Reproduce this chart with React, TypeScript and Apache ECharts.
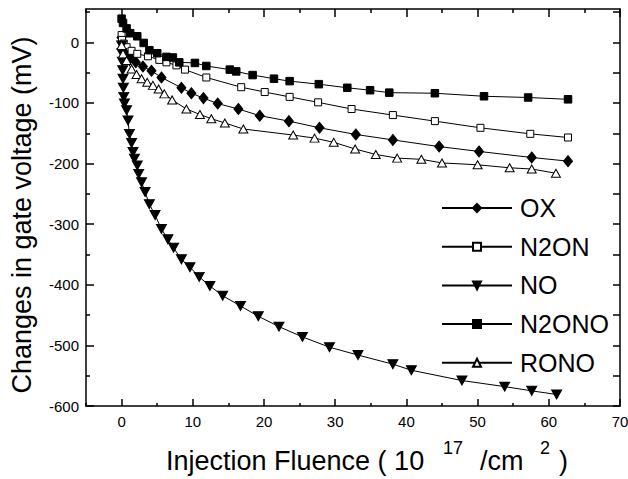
import React, { useEffect, useRef } from "react";
import * as echarts from "echarts";

const FONT = '"Liberation Sans", Arial, Helvetica, sans-serif';

// Injection fluence (1e17/cm^2), gate voltage shift (mV)
const OX: [number, number][] = [
  [0, 8], [0.2, -8], [0.6, -18], [1.2, -26], [2.0, -33], [3.0, -40], [4.2, -47], [5.6, -58],
  [8.4, -75], [9.8, -84], [11.5, -92], [13.5, -101], [16.4, -110], [19.4, -121], [23.5, -130],
  [27.8, -141], [32.9, -152], [38.1, -161], [44.6, -172], [50.2, -180], [57.6, -190], [62.7, -196],
];
const N2ON: [number, number][] = [
  [0, 12], [0.05, 4], [0.3, -2], [0.7, -8], [1.4, -14], [2.2, -19], [3.7, -23], [5.3, -29],
  [6.3, -33], [7.7, -38], [8.9, -45], [11.9, -58], [16.8, -74], [20.1, -82], [23.6, -90],
  [27.6, -99], [32.3, -110], [38.1, -120], [44.0, -130], [50.4, -141], [57.4, -151], [62.7, -157],
];
const NO: [number, number][] = [
  [0, -5], [0.05, -18], [0.1, -32], [0.15, -46], [0.2, -60], [0.25, -75], [0.3, -90], [0.4, -101],
  [0.7, -112], [0.9, -129], [1.1, -151], [1.4, -166], [1.6, -181], [1.8, -192], [2.2, -203],
  [2.4, -217], [2.8, -231], [3.3, -247], [3.9, -267], [4.7, -285], [5.6, -308], [6.5, -325],
  [7.3, -339], [8.4, -358], [9.6, -371], [10.9, -387], [12.4, -402], [14.2, -418], [16.7, -435],
  [19.2, -452], [22.1, -469], [25.4, -486], [29.2, -503], [33.2, -516], [38.1, -531], [40.7, -541],
  [47.8, -558], [53.8, -568], [57.6, -575], [61.1, -581],
];
const N2ONO: [number, number][] = [
  [0, 39], [0.2, 32], [0.7, 23], [1.2, 15], [2.2, 10], [3.1, -1], [3.9, -13], [5.0, -18],
  [6.3, -24], [7.2, -25], [8.1, -33], [10.3, -34], [11.9, -39], [15.2, -45], [16.1, -48],
  [18.4, -54], [21.4, -60], [23.6, -64], [27.7, -69], [31.7, -75], [34.9, -79], [37.6, -83],
  [44.0, -84], [50.9, -89], [57.1, -91], [62.7, -94],
];
const RONO: [number, number][] = [
  [0, -5], [0.2, -19], [0.7, -30], [1.4, -44], [2.1, -53], [2.8, -60], [3.6, -66], [4.4, -71],
  [5.2, -77], [6.0, -85], [7.1, -95], [9.1, -110], [11.0, -119], [12.6, -126], [14.5, -133],
  [17.1, -143], [24.1, -153], [27.1, -158], [29.8, -165], [32.8, -176], [35.7, -185], [38.7, -191],
  [42.1, -193], [45.0, -199], [50.0, -202], [54.5, -207], [57.6, -209], [61.0, -216],
];

const X_MAJOR = [0, 10, 20, 30, 40, 50, 60, 70];
const X_MINOR = [-5, 5, 15, 25, 35, 45, 55, 65];
const Y_MAJOR = [-600, -500, -400, -300, -200, -100, 0];
const Y_MINOR = [-550, -450, -350, -250, -150, -50, 50];
const Y_RIGHT = [-600, -550, -500, -450, -400, -350, -300, -250, -200, -150, -100, -50, 0, 50];
const X_RANGE = [-5, 70];
const Y_RANGE = [-600, 55];

const LINE = { color: "#000", width: 1.5 };

function xAx(position: string, ticks: number[], len: number, showLine: boolean, labels: boolean) {
  return {
    type: "value",
    min: X_RANGE[0],
    max: X_RANGE[1],
    position,
    axisLine: { show: showLine, onZero: false, lineStyle: LINE },
    axisTick: { show: true, inside: true, length: len, customValues: ticks, lineStyle: LINE },
    axisLabel: labels
      ? { show: true, customValues: ticks, margin: 8, fontSize: 15, color: "#000", fontFamily: FONT }
      : { show: false },
    splitLine: { show: false },
  };
}
function yAx(position: string, ticks: number[], len: number, showLine: boolean, labels: boolean) {
  return {
    type: "value",
    min: Y_RANGE[0],
    max: Y_RANGE[1],
    position,
    axisLine: { show: showLine, onZero: false, lineStyle: LINE },
    axisTick: { show: true, inside: true, length: len, customValues: ticks, lineStyle: LINE },
    axisLabel: labels
      ? { show: true, customValues: ticks, margin: 7, fontSize: 15, color: "#000", fontFamily: FONT }
      : { show: false },
    splitLine: { show: false },
  };
}

export default function App() {
  const ref = useRef<HTMLDivElement>(null);
  useEffect(() => {
    if (!ref.current) return;
    const chart = echarts.init(ref.current, null, { renderer: "svg" });
    const lineStyle = { color: "#000", width: 1 };
    const filled = { color: "#000", borderColor: "#000", borderWidth: 1 };
    const open = { color: "#fff", borderColor: "#000", borderWidth: 1 };
    chart.setOption({
      animation: false,
      backgroundColor: "#fff",
      grid: { left: 86, right: 8, top: 9, bottom: 73, outerBoundsMode: "none" },
      xAxis: [
        xAx("bottom", X_MAJOR, 7, true, true),
        xAx("bottom", X_MINOR, 3, false, false),
        xAx("top", X_MAJOR, 8, true, false),
        xAx("top", X_MINOR, 4, false, false),
      ],
      yAxis: [
        yAx("left", Y_MAJOR, 8, true, true),
        yAx("left", Y_MINOR, 4, false, false),
        yAx("right", Y_RIGHT, 7, true, false),
      ],
      legend: {
        orient: "vertical",
        left: 441,
        top: 195.5,
        padding: 0,
        itemWidth: 70,
        itemHeight: 10,
        itemGap: 13.7,
        textStyle: { fontSize: 25, lineHeight: 25, fontFamily: FONT, color: "#000", padding: [0, 0, 0, 3] },
        data: ["OX", "N2ON", "NO", "N2ONO", "RONO"],
      },
      series: [
        { name: "OX", type: "line", data: OX, symbol: "diamond", symbolSize: [9, 11], itemStyle: filled, lineStyle },
        { name: "N2ON", type: "line", data: N2ON, symbol: "rect", symbolSize: 7, itemStyle: open, lineStyle },
        { name: "NO", type: "line", data: NO, symbol: "triangle", symbolSize: [10, 9], symbolRotate: 180, itemStyle: filled, lineStyle },
        { name: "N2ONO", type: "line", data: N2ONO, symbol: "rect", symbolSize: 7.5, itemStyle: filled, lineStyle },
        { name: "RONO", type: "line", data: RONO, symbol: "triangle", symbolSize: [9, 8], itemStyle: open, lineStyle },
      ].map((s) => ({ ...s, emphasis: { disabled: true }, silent: true })),
      graphic: [
        {
          type: "text", x: 22, y: 215, rotation: Math.PI / 2,
          style: { text: "Changes in gate voltage (mV)", fontSize: 27, fontFamily: FONT, fill: "#000", align: "center", verticalAlign: "middle" },
        },
        { type: "text", x: 166, y: 461, style: { text: "Injection Fluence ( 10", fontSize: 27, fontFamily: FONT, fill: "#000", align: "left", verticalAlign: "middle" } },
        { type: "text", x: 443, y: 448, style: { text: "17", fontSize: 18, fontFamily: FONT, fill: "#000", align: "left", verticalAlign: "middle" } },
        { type: "text", x: 480, y: 461, style: { text: "/cm", fontSize: 27, fontFamily: FONT, fill: "#000", align: "left", verticalAlign: "middle" } },
        { type: "text", x: 540, y: 448, style: { text: "2", fontSize: 18, fontFamily: FONT, fill: "#000", align: "left", verticalAlign: "middle" } },
        { type: "text", x: 559, y: 461, style: { text: ")", fontSize: 27, fontFamily: FONT, fill: "#000", align: "left", verticalAlign: "middle" } },
      ],
    });
    return () => chart.dispose();
  }, []);
  return <div ref={ref} style={{ position: "fixed", left: 0, top: 0, width: 628, height: 479 }} />;
}
